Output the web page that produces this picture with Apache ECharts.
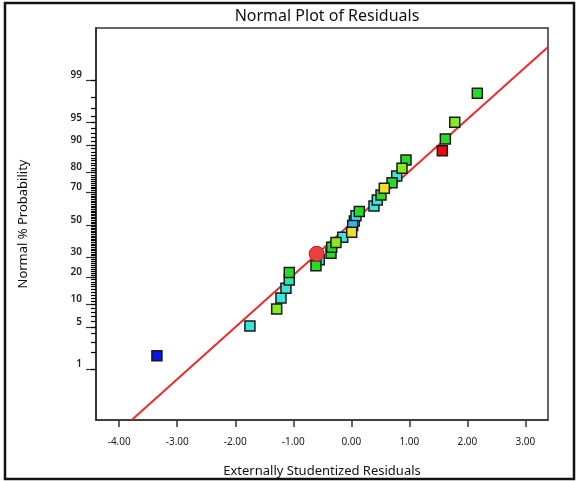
<!DOCTYPE html>
<html>
<head>
<meta charset="utf-8">
<script src="https://cdn.jsdelivr.net/npm/echarts@6/dist/echarts.min.js"></script>
<style>
  html, body { margin: 0; padding: 0; background: #fff; }
  #chart { width: 579px; height: 481px; }
</style>
</head>
<body>
<div id="chart"></div>
<script>
  // residuals (x) and normal % probability (y), grouped by point colour
  const blueX = [-3.35];
  const blueP = [1.76];
  const cyanX = [-1.747, -1.212, -1.126, -0.552, -0.148, 0.052, 0.081, 0.391, 0.448, 0.783];
  const cyanP = [5.2, 12.0, 15.4, 28.7, 42.2, 52.6, 55.8, 62.0, 65.6, 78.5];
  const skyX = [0.024];
  const skyP = [49.6];
  const tealX = [-1.069];
  const tealP = [18.8];
  const greenX = [-1.069, -0.609, -0.35, -0.338, 0.138, 0.512, 0.702, 0.943, 1.621, 2.172];
  const greenP = [22.2, 25.5, 32.4, 36.0, 58.5, 68.5, 75.2, 85.2, 91.7, 98.3];
  const limeX = [-1.286, -0.264, 0.874, 1.783];
  const limeP = [8.8, 38.8, 81.9, 95.1];
  const yellowX = [0.007, 0.569];
  const yellowP = [45.3, 72.2];
  const redX = [1.569];
  const redP = [88.4];
  const circleX = [-0.597];
  const circleP = [32.1];

  // fitted normal line, end points
  const fitX = [-3.78, 3.39];
  const fitP = [0.086, 99.79];

  const xTicks = [-4, -3, -2, -1, 0, 1, 2, 3];
  const yTicks = [1, 5, 10, 20, 30, 50, 70, 80, 90, 95, 99];

  // inverse normal cdf (Acklam), used as the probability-axis scale
  function probit(pct) {
    const p = pct / 100;
    const a = [-3.969683028665376e+01, 2.209460984245205e+02, -2.759285104469687e+02, 1.383577518672690e+02, -3.066479806614716e+01, 2.506628277459239e+00];
    const b = [-5.447609879822406e+01, 1.615858368580409e+02, -1.556989798598866e+02, 6.680131188771972e+01, -1.328068155288572e+01];
    const c = [-7.784894002430293e-03, -3.223964580411365e-01, -2.400758277161838e+00, -2.549732539343734e+00, 4.374664141464968e+00, 2.938163982698783e+00];
    const d = [7.784695709041462e-03, 3.224671290700398e-01, 2.445134137142996e+00, 3.754408661907416e+00];
    const pl = 0.02425;
    let q, r;
    if (p < pl) {
      q = Math.sqrt(-2 * Math.log(p));
      return (((((c[0]*q+c[1])*q+c[2])*q+c[3])*q+c[4])*q+c[5]) / ((((d[0]*q+d[1])*q+d[2])*q+d[3])*q+1);
    }
    if (p > 1 - pl) {
      q = Math.sqrt(-2 * Math.log(1 - p));
      return -(((((c[0]*q+c[1])*q+c[2])*q+c[3])*q+c[4])*q+c[5]) / ((((d[0]*q+d[1])*q+d[2])*q+d[3])*q+1);
    }
    q = p - 0.5;
    r = q * q;
    return (((((a[0]*r+a[1])*r+a[2])*r+a[3])*r+a[4])*r+a[5])*q / (((((b[0]*r+b[1])*r+b[2])*r+b[3])*r+b[4])*r+1);
  }

  function pts(xs, ps) {
    return xs.map((x, i) => [x, probit(ps[i])]);
  }

  const yMin = -3.14, yMax = 3.17;
  const yMajor = yTicks.map(probit);
  const yLabelMap = {};
  yTicks.forEach((t, i) => { yLabelMap[yMajor[i].toFixed(5)] = String(t); });
  const yMinor = [];
  for (let k = 1; k <= 99; k++) yMinor.push(probit(k));

  const fontFam = '"Noto Sans", "Open Sans", sans-serif';
  const edge = '#1a1a1a';

  function squares(name, xs, ps, color) {
    return {
      name: name,
      type: 'scatter',
      symbol: 'rect',
      symbolSize: 10,
      data: pts(xs, ps),
      itemStyle: { color: color, borderColor: edge, borderWidth: 1.5, opacity: 1 },
      z: 3
    };
  }

  const chart = echarts.init(document.getElementById('chart'));
  chart.setOption({
    animation: false,
    backgroundColor: '#fff',
    title: {
      text: 'Normal Plot of Residuals',
      left: 322,
      top: 3,
      textAlign: 'center',
      textStyle: { fontFamily: fontFam, fontSize: 16, fontWeight: 'normal', color: '#111' }
    },
    graphic: [{
      type: 'rect',
      shape: { x: 5, y: 3, width: 569, height: 476 },
      style: { fill: 'none', stroke: '#111', lineWidth: 2.5 },
      silent: true
    }],
    grid: {
      left: 96, top: 28, right: 31, bottom: 61,
      outerBoundsMode: 'none',
      containLabel: false,
      show: true, borderColor: '#333', borderWidth: 1.5, backgroundColor: '#fff'
    },
    xAxis: {
      type: 'value',
      min: -4.40,
      max: 3.39,
      name: 'Externally Studentized Residuals',
      nameLocation: 'middle',
      nameGap: 45,
      nameTextStyle: { fontFamily: fontFam, fontSize: 13, color: '#111' },
      axisLine: { show: true, onZero: false, lineStyle: { color: '#333', width: 1.5 } },
      axisTick: { show: true, customValues: xTicks, length: 7, lineStyle: { color: '#333', width: 1.5 } },
      axisLabel: {
        customValues: xTicks,
        margin: 17,
        fontFamily: fontFam, fontSize: 10, color: '#222',
        formatter: v => v.toFixed(2)
      },
      splitLine: { show: false }
    },
    yAxis: [{
      type: 'value',
      min: yMin,
      max: yMax,
      position: 'left',
      name: 'Normal % Probability',
      nameLocation: 'middle',
      nameGap: 66,
      nameTextStyle: { fontFamily: fontFam, fontSize: 13, color: '#111' },
      axisLine: { show: true, onZero: false, lineStyle: { color: '#333', width: 1.5 } },
      axisTick: { show: true, customValues: yMajor, length: 10, lineStyle: { color: '#333', width: 1.2 } },
      axisLabel: {
        customValues: yMajor,
        margin: 14,
        verticalAlign: 'bottom',
        fontFamily: fontFam, fontSize: 10, fontWeight: 600, color: '#222',
        formatter: v => yLabelMap[v.toFixed(5)] || ''
      },
      splitLine: { show: false }
    }, {
      // 1% minor ticks of the probability scale
      type: 'value',
      min: yMin,
      max: yMax,
      position: 'left',
      axisLine: { show: true, onZero: false, lineStyle: { color: '#333', width: 1.5 } },
      axisTick: { show: true, customValues: yMinor, length: 5, lineStyle: { color: '#000', width: 1.2 } },
      axisLabel: { show: false },
      splitLine: { show: false }
    }],
    series: [
      {
        name: 'fit',
        type: 'line',
        data: pts(fitX, fitP),
        symbol: 'none',
        lineStyle: { color: '#ee2a2a', width: 2 },
        z: 2
      },
      squares('blue', blueX, blueP, '#0a14e6'),
      squares('cyan', cyanX, cyanP, '#3ae6dc'),
      squares('sky', skyX, skyP, '#38b4f0'),
      squares('teal', tealX, tealP, '#2ee6a8'),
      squares('green', greenX, greenP, '#26dc26'),
      squares('lime', limeX, limeP, '#86ec22'),
      squares('yellow', yellowX, yellowP, '#f2e028'),
      squares('red', redX, redP, '#ee0a0a'),
      {
        name: 'selected',
        type: 'scatter',
        symbol: 'circle',
        symbolSize: 15,
        data: pts(circleX, circleP),
        itemStyle: { color: '#ec4040', borderColor: '#a82020', borderWidth: 1, opacity: 1 },
        z: 4
      }
    ]
  });
</script>
</body>
</html>
